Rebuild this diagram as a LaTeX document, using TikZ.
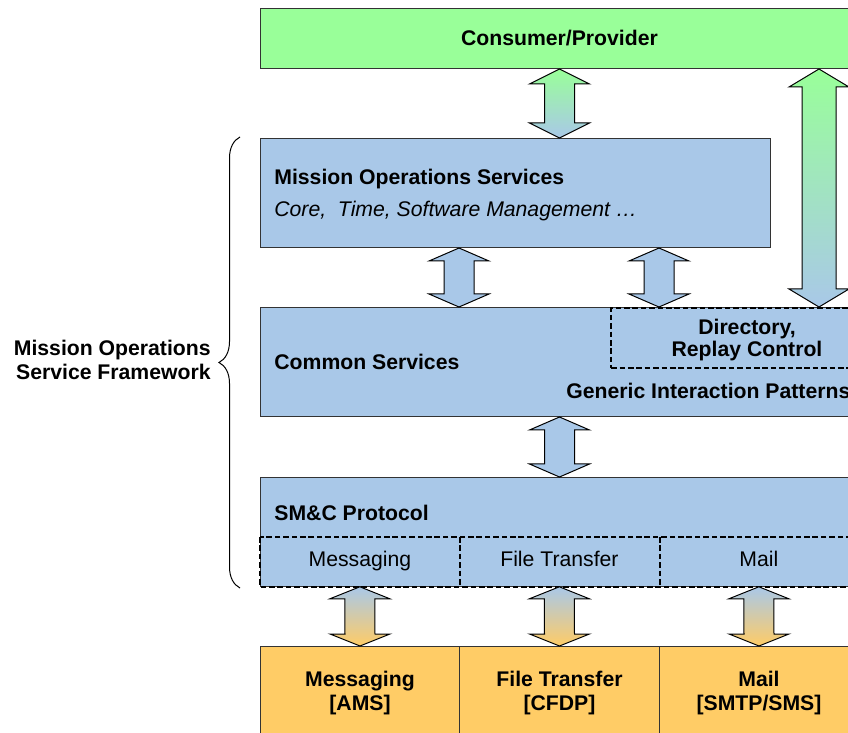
\documentclass[tikz,border=0pt]{standalone}
\usepackage{fontspec}
\setmainfont{Liberation Sans}
\usepackage{tikz}
\usetikzlibrary{positioning,calc,decorations.pathreplacing}

\definecolor{consgreen}{RGB}{153,255,153}
\definecolor{moblue}{RGB}{169,200,232}
\definecolor{protorange}{RGB}{255,204,102}

\tikzset{
  layer/.style={draw=black!80, line width=0.5pt, inner sep=0pt, anchor=north west},
  dashline/.style={draw=black, line width=1.1pt, dash pattern=on 2.8pt off 1.4pt},
  dashbox/.style={dashline, inner sep=0pt, anchor=north west},
  cell/.style={inner sep=0pt, anchor=north west, minimum height=24.5pt,
    text height=0.75em, text depth=0.25em},
  lbl/.style={inner sep=0pt, font=\fontsize{10.6}{12}\selectfont},
  blbl/.style={lbl, font=\fontsize{10.6}{12}\selectfont\bfseries},
  arrowbody/.style={draw=black, line width=0.5pt, line join=miter},
}

% double headed block arrow: upper tip, lower tip, half shaft width, head length
\newcommand{\dblarrow}[5][]{%
  \path[arrowbody,#1] (#2) -- ($(#2)+(30,#5)$) -- ($(#2)+(#4,#5)$)
    -- ($(#3)+(#4,-#5)$) -- ($(#3)+(30,-#5)$) -- (#3)
    -- ($(#3)+(-30,-#5)$) -- ($(#3)+(-#4,-#5)$)
    -- ($(#2)+(-#4,#5)$) -- ($(#2)+(-30,#5)$) -- cycle;}

\begin{document}
\begin{tikzpicture}[x=0.5pt,y=-0.5pt]
\useasboundingbox (0,0) rectangle (848,733);
\clip (0,0) rectangle (848,733);

% Consumer on top
\node[layer, fill=consgreen, minimum width=299pt, minimum height=30pt,
  font=\fontsize{10.6}{12}\selectfont\bfseries] (cons) at (260,8) {Consumer/Provider};

% Mission operations services
\node[layer, fill=moblue, minimum width=255pt, minimum height=54.5pt] (mos) at (260,138) {};
\node[blbl, anchor=base west] (mostitle) at (274,185) {Mission Operations Services};
\node[lbl, anchor=base west] (mositems) at (274,217) {\itshape Core,\ \ Time, Software Management …};

% Common services
\node[layer, fill=moblue, minimum width=299pt, minimum height=54.5pt] (common) at (260,307) {};
\node[blbl, anchor=base west] (comtitle) at (274,370) {Common Services};
\node[dashbox, minimum width=124pt, minimum height=30pt] (dir) at (610,307) {};
\node[blbl, align=center, font=\fontsize{10.6}{10.6}\selectfont\bfseries] (dirtext) at (747,340) {Directory,\\Replay Control};
\node[blbl, anchor=base west] (gip) at (566,399) {Generic Interaction Patterns};

% SM&C protocol and its bindings
\node[layer, fill=moblue, minimum width=299pt, minimum height=54.5pt] (smc) at (260,477) {};
\node[blbl, anchor=base west] (smctitle) at (274,521) {SM\&C Protocol};
\node[cell, lbl, minimum width=99.5pt] (msgcell) at (260,537) {Messaging};
\node[cell, lbl, minimum width=100pt] (ftcell) at (459,537) {File Transfer};
\node[cell, lbl, minimum width=99.5pt] (mailcell) at (659,537) {Mail};
\draw[dashline] (msgcell.north west) rectangle (mailcell.south east);
\draw[dashline] (msgcell.north east) -- (msgcell.south east);
\draw[dashline] (ftcell.north east) -- (ftcell.south east);

% Transport layer
\node[layer, fill=protorange, minimum width=99.5pt, minimum height=47pt, align=center,
  font=\fontsize{10.6}{12}\selectfont\bfseries] (msgbox) at (260,646) {Messaging\\{}[AMS]};
\node[layer, fill=protorange, minimum width=100pt, minimum height=47pt, align=center,
  font=\fontsize{10.6}{12}\selectfont\bfseries] (ftbox) at (459,646) {File Transfer\\{}[CFDP]};
\node[layer, fill=protorange, minimum width=99.5pt, minimum height=47pt, align=center,
  font=\fontsize{10.6}{12}\selectfont\bfseries] (mailbox) at (659,646) {Mail\\{}[SMTP/SMS]};

% Arrows between layers
\coordinate (xleft) at (459,0);
\coordinate (xright) at (659,0);
\coordinate (xside) at (819,0);

\dblarrow[top color=consgreen, bottom color=moblue]{cons.south}{mos.north -| cons.south}{15}{15}
\dblarrow[top color=consgreen, bottom color=moblue]{cons.south -| xside}{dir.north -| xside}{17}{18}
\dblarrow[fill=moblue]{mos.south -| xleft}{common.north -| xleft}{15}{13}
\dblarrow[fill=moblue]{mos.south -| xright}{common.north -| xright}{15}{13}
\dblarrow[fill=moblue]{common.south}{smc.north -| common.south}{15}{13}
\dblarrow[top color=moblue, bottom color=protorange]{msgcell.south}{msgbox.north}{15}{12}
\dblarrow[top color=moblue, bottom color=protorange]{ftcell.south}{ftbox.north}{15}{12}
\dblarrow[top color=moblue, bottom color=protorange]{mailcell.south}{mailbox.north}{15}{12}

% Framework brace
\coordinate (bracelow) at (240,588);
\coordinate (bracehigh) at (240,137);
\draw[line width=0.5pt, decorate, decoration={brace, amplitude=10.5pt}] (bracelow) -- (bracehigh);
\node[blbl, align=right, anchor=east] (frame) at (211,360) {Mission Operations\\Service Framework};
\end{tikzpicture}
\end{document}
